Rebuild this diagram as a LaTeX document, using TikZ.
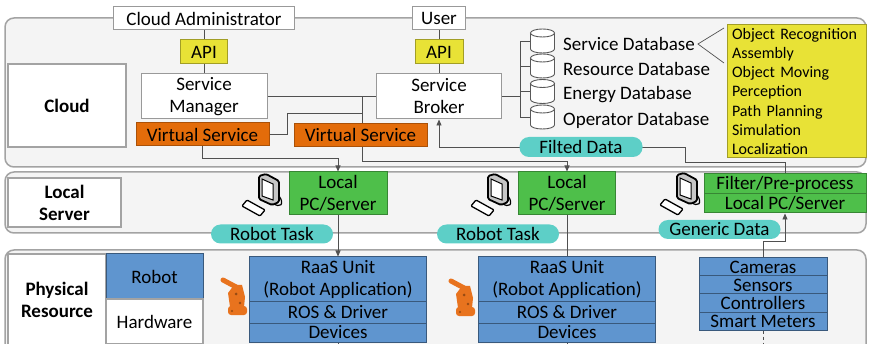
\documentclass[tikz,border=0pt]{standalone}
\usepackage{fontspec}
\setmainfont{Carlito}
\usetikzlibrary{positioning,arrows.meta}

\definecolor{panelgray}{HTML}{F4F4F4}
\definecolor{edgegray}{HTML}{A3A3A3}
\definecolor{wireline}{HTML}{505050}
\definecolor{apiyellow}{HTML}{E8E236}
\definecolor{vsorange}{HTML}{E36C0A}
\definecolor{pcgreen}{HTML}{4EBF4A}
\definecolor{unitblue}{HTML}{5F95CF}
\definecolor{pillteal}{HTML}{5DCFC7}
\definecolor{robotorange}{HTML}{E8731E}

\tikzset{
  every node/.style={font=\fontsize{19}{22}\selectfont, inner sep=0pt},
  panel/.style={draw=edgegray, line width=1.5pt, fill=panelgray, rounded corners=9pt},
  layer/.style={draw=edgegray, line width=1.2pt, fill=white, align=center,
    font=\fontsize{19}{22}\selectfont\bfseries},
  plain/.style={draw=gray!80, line width=1pt, fill=white, align=center},
  api/.style={draw=apiyellow!70!black, line width=1pt, fill=apiyellow},
  vservice/.style={draw=vsorange!75!black, line width=1pt, fill=vsorange},
  pc/.style={draw=pcgreen!70!black, line width=1pt, fill=pcgreen, align=center},
  unit/.style={draw=unitblue!60!black, line width=1pt, fill=unitblue, align=center},
  pill/.style={fill=pillteal, rounded corners=9.5pt, minimum height=19pt, minimum width=122pt},
  db/.style={minimum width=25pt, minimum height=25pt},
  dbname/.style={anchor=west},
  wire/.style={draw=wireline, line width=0.9pt},
  arr/.style={wire, -{Triangle[length=6pt,width=5pt]}},
  pics/cylinder/.style={code={
    \draw[gray!70!black, line width=0.9pt, fill=white]
      (-12,-8) -- (-12,8) arc[start angle=180, end angle=0, x radius=12, y radius=4] -- (12,-8);
    \draw[gray!70!black, line width=0.9pt, fill=white] (0,-8) ellipse[x radius=12, y radius=4];
  }},
  pics/computer/.style={code={
    \draw[line width=1.3pt, fill=white, rounded corners=1pt] (-16,12) -- (-11,6) -- (7,16) -- (2,22) -- cycle;
    \draw[line width=1.2pt] (15,9) .. controls (22,15) and (27,10) .. (21,2);
    \draw[line width=1.8pt, fill=gray!45, rounded corners=1.5pt]
      (1,-18) -- (8,-20) -- (21,-13) -- (21,8) -- (14,11) -- (1,5) -- cycle;
    \draw[line width=1pt, fill=white] (4,-15) -- (15,-10) -- (15,6) -- (4,2) -- cycle;
  }},
  pics/robotarm/.style={code={
    \fill[robotorange, rounded corners=3pt] (-6,18) rectangle (13,9);
    \fill[robotorange] (-4,10) -- (-6,-4) -- (0,-12) -- (8,-12) -- (11,0) -- (10,10) -- cycle;
    \draw[robotorange, line width=5pt, line cap=round] (-11,-17) -- (4,-9);
    \fill[robotorange!65!black] (2,-3) circle (1.5) (6,6) circle (1.3) (-2,14) circle (1.2);
  }},
}

\begin{document}
\begin{tikzpicture}[x=1pt,y=-1pt]
  \useasboundingbox (0,0) rectangle (869,344);
  \clip (0,0) rectangle (869,344);
  \fill[white] (0,0) rectangle (869,344);

  % layers
  \draw[panel] (5,18) rectangle (866,167);
  \draw[panel] (5,172) rectangle (866,233);
  \draw[panel] (5,250) rectangle (866,370);

  \node[layer, minimum width=118pt, minimum height=83pt] (cloud) at (67,105.5) {Cloud};
  \node[layer, minimum width=113pt, minimum height=49pt] (local) at (64.5,202.5) {Local\\Server};
  \node[layer, minimum width=98pt, minimum height=92pt] (phys) at (57,300) {Physical\\Resource};
  \node[unit, minimum width=97pt, minimum height=45pt] (robot) at (154.5,276.5) {Robot};
  \node[layer, font=\fontsize{19}{22}\selectfont, minimum width=97pt, minimum height=45pt] (hw) at (154.5,321.5) {Hardware};

  % cloud
  \node[plain, minimum width=181pt, minimum height=23pt] (admin) at (204,18.5) {Cloud Administrator};
  \node[plain, minimum width=53pt, minimum height=23pt] (user) at (439,18.5) {User};
  \node[api, minimum width=47pt, minimum height=24pt] (api1) at (204,52) {API};
  \node[api, minimum width=48pt, minimum height=24pt] (api2) at (439,52) {API};
  \node[plain, minimum width=126pt, minimum height=45pt] (sm) at (204,96.5) {Service\\Manager};
  \node[plain, minimum width=125pt, minimum height=45pt] (sb) at (439,96.5) {Service\\Broker};
  \node[vservice, minimum width=133pt, minimum height=23pt] (vs1) at (202.5,134.5) {Virtual Service};

  \foreach \i/\y/\kind in {1/41/Service,2/66/Resource,3/91.5/Energy,4/117/Operator} {
    \node[db] (db\i) at (542.5,\y) {};
    \pic at (542.5,\y) {cylinder};
    \node[dbname] (dbt\i) at (563,\y+3) {\kind\ Database};
  }

  \node[api, minimum width=139pt, minimum height=133pt, text width=129pt, align=left,
    font=\fontsize{16}{19.3}\selectfont] (apps) at (796.5,91.5)
    {Object Recognition\\Assembly\\Object Moving\\Perception\\Path Planning\\Simulation\\Localization};

  % local server
  \node[pc, minimum width=98pt, minimum height=43pt] (pc1) at (338,193.5) {Local\\PC/Server};
  \node[pc, minimum width=97pt, minimum height=43pt] (pc2) at (567,193.5) {Local\\PC/Server};
  \node[pc, minimum width=162pt, minimum height=20pt] (flt) at (785,184) {Filter/Pre-process};
  \node[pc, minimum width=162pt, minimum height=19pt] (lpc) at (785,203.5) {Local PC/Server};
  \pic at (258,194) {computer};
  \pic at (487,194) {computer};
  \pic at (676,193) {computer};

  % physical resources
  \foreach \n/\x in {1/338,2/567} {
    \node[unit, minimum width=177pt, minimum height=44pt] (raas\n) at (\x,279) {RaaS Unit\\(Robot Application)};
    \node[unit, minimum width=177pt, minimum height=22pt] (ros\n) at (\x,312) {ROS \& Driver};
    \node[unit, minimum width=177pt, minimum height=19pt] (dev\n) at (\x,332.5) {Devices};
  }
  \pic at (234,297) {robotarm};
  \pic at (462,298) {robotarm};

  \node[unit, minimum width=128pt, minimum height=18pt] (cam) at (763,267) {Cameras};
  \node[unit, minimum width=128pt, minimum height=18pt] (sen) at (763,285) {Sensors};
  \node[unit, minimum width=128pt, minimum height=18pt] (ctl) at (763,303) {Controllers};
  \node[unit, minimum width=128pt, minimum height=18pt] (smt) at (763,321) {Smart Meters};

  % connections
  \coordinate (hub) at (362,96.5);
  \coordinate (hubdown) at (362,161);
  \coordinate (vsjoin) at (362,113);
  \coordinate (spine) at (520,96.5);
  \coordinate (fd1) at (685,162);
  \coordinate (fd2) at (685,147);
  \coordinate (a1) at (724,28);
  \coordinate (a2) at (724,63);

  \draw[wire] (admin) -- (api1) -- (sm);
  \draw[wire] (user) -- (api2) -- (sb);
  \draw[wire] (sm) -- (sb);
  \draw[arr] (hub) -- (hubdown) -| (pc2);
  \draw[wire] (vs1.east) -- ++(18,0) |- (vsjoin);
  \draw[arr] (vs1.south) -- ++(0,12) -| (pc1);
  \draw[wire] (sb) -- (spine);
  \foreach \i in {1,...,4}
    \draw[wire] (db\i) -| (spine);
  \draw[wire, line width=0.7pt] (a1) -- ([xshift=3pt]dbt1.east) -- (a2);
  \draw[arr] (flt) |- (fd1) -- (fd2) -| (sb);

  \draw[arr] (pc1) -- (raas1);
  \draw[wire] (pc2) -- (raas2);
  \draw[arr] (cam.north) -- ++(0,-16) -| (lpc);
  \draw[wire] (dev1.south) -- ++(0,10);
  \draw[wire] (dev2.south) -- ++(0,10);
  \draw[wire, dashed] (smt.south) -- ++(0,20);

  % on top of the wires
  \node[vservice, minimum width=133pt, minimum height=23pt] (vs2) at (360.5,135) {Virtual Service};
  \node[pill, minimum width=123pt, minimum height=20pt] (fdata) at (581,147) {Filted Data};
  \node[pill] (task1) at (272,234) {Robot Task};
  \node[pill] (task2) at (498,234) {Robot Task};
  \node[pill] (gdata) at (719.5,229.5) {Generic Data};
\end{tikzpicture}
\end{document}
